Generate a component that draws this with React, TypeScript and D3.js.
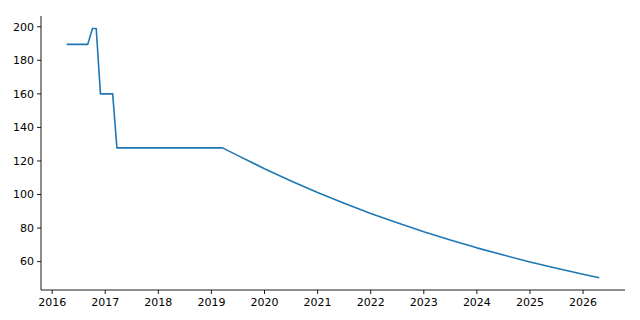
import React from "react";
import * as d3 from "d3";

// decimal year, value
const years: number[] = [
  2016.29, 2016.67, 2016.76, 2016.83, 2016.91, 2017.14, 2017.22, 2019.21,
  2019.5, 2020.0, 2020.5, 2021.0, 2021.5, 2022.0, 2022.5, 2023.0, 2023.5,
  2024.0, 2024.5, 2025.0, 2025.5, 2026.0, 2026.29,
];
const values: number[] = [
  189.5, 189.5, 199.0, 199.0, 160.0, 160.0, 127.8, 127.8,
  123.2, 115.4, 108.1, 101.2, 94.8, 88.7, 83.1, 77.8, 72.9,
  68.2, 63.9, 59.8, 56.0, 52.5, 50.5,
];
const xTicks: number[] = [2016, 2017, 2018, 2019, 2020, 2021, 2022, 2023, 2024, 2025, 2026];
const yTicks: number[] = [60, 80, 100, 120, 140, 160, 180, 200];

export default function App() {
  const W = 640, H = 320;
  const left = 41, right = 625, top = 16, bottom = 290;
  const xmin = d3.min(years)!, xmax = d3.max(years)!;
  const ymin = d3.min(values)!, ymax = d3.max(values)!;
  const xm = (xmax - xmin) * 0.05, ym = (ymax - ymin) * 0.05;
  const x = d3.scaleLinear().domain([xmin - xm, xmax + xm]).range([left, right]);
  const y = d3.scaleLinear().domain([ymin - ym, ymax + ym]).range([bottom, top]);
  const data = years.map((t, i) => [t, values[i]] as [number, number]);
  const line = d3.line<[number, number]>().x(d => x(d[0])).y(d => y(d[1]));
  const font = "DejaVu Sans, sans-serif";
  return (
    <svg width={W} height={H} style={{ position: "absolute", left: 0, top: 0, background: "#fff" }}>
      <path d={line(data)!} fill="none" stroke="#1f77b4" strokeWidth={1.6} strokeLinejoin="round" strokeLinecap="square" />
      <line x1={left} x2={left} y1={top} y2={bottom} stroke="#000" strokeWidth={0.9} />
      <line x1={left} x2={right} y1={bottom} y2={bottom} stroke="#000" strokeWidth={0.9} />
      {xTicks.map(t => (
        <g key={"x" + t}>
          <line x1={x(t)} x2={x(t)} y1={bottom} y2={bottom + 4} stroke="#000" strokeWidth={0.9} />
          <text x={x(t)} y={bottom + 16} textAnchor="middle" fontFamily={font} fontSize={11} fill="#000">{t}</text>
        </g>
      ))}
      {yTicks.map(t => (
        <g key={"y" + t}>
          <line x1={left - 4} x2={left} y1={y(t)} y2={y(t)} stroke="#000" strokeWidth={0.9} />
          <text x={left - 7} y={y(t)} dy="0.35em" textAnchor="end" fontFamily={font} fontSize={11} fill="#000">{t}</text>
        </g>
      ))}
    </svg>
  );
}
